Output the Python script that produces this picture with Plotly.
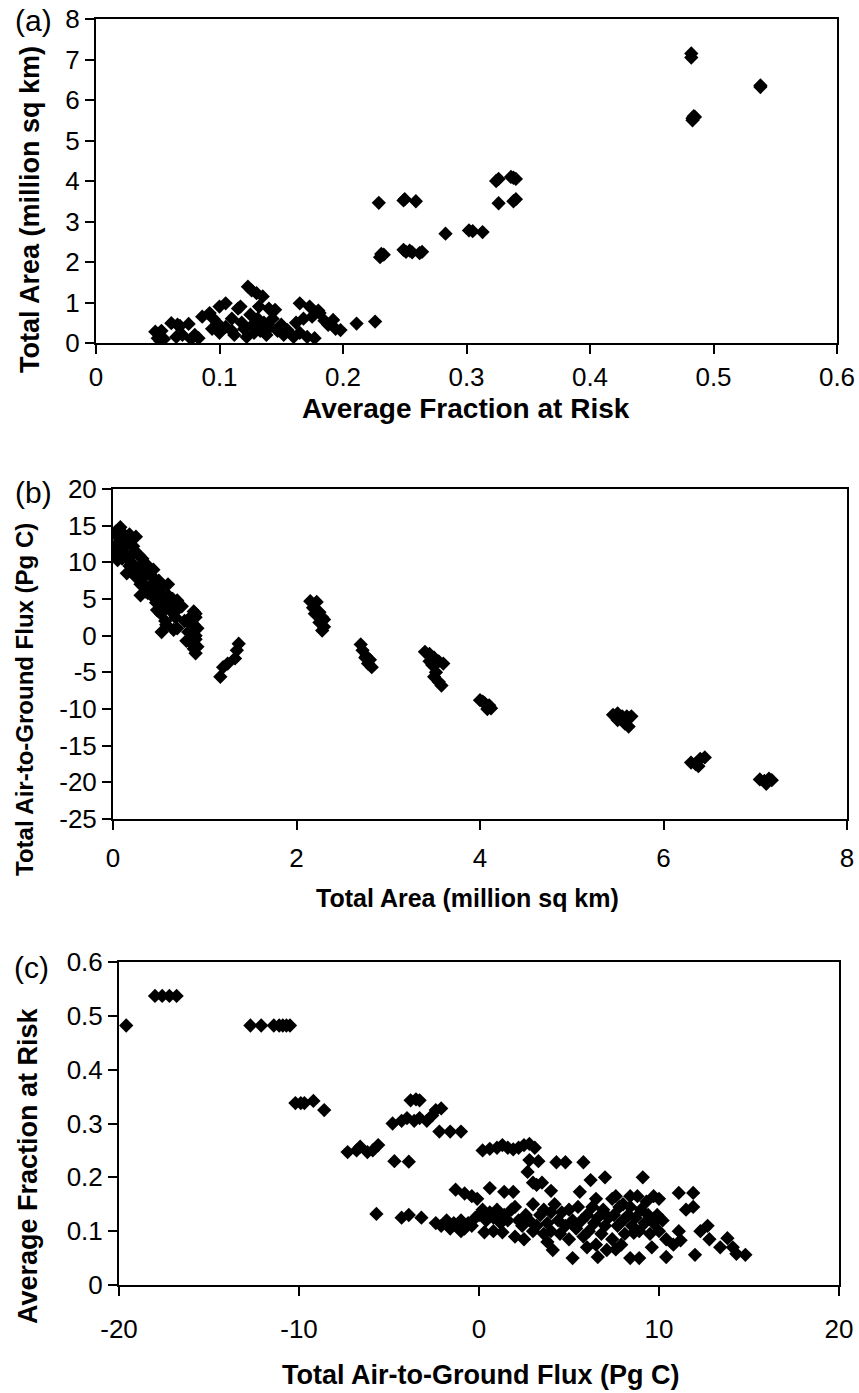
import plotly.graph_objects as go

# ---------------- data ----------------
# (a) Average fraction at risk vs total area
a_frac = [0.283, 0.302, 0.305, 0.313, 0.324, 0.326, 0.326, 0.336, 0.338, 0.340, 0.340, 0.338,
          0.482, 0.482, 0.483, 0.484, 0.483, 0.485, 0.538, 0.538,
          0.229, 0.249, 0.250, 0.259, 0.230, 0.231, 0.233, 0.249, 0.251, 0.254, 0.256, 0.262, 0.264,
          0.226, 0.211, 0.198, 0.194,
          0.048, 0.050, 0.052, 0.055, 0.053, 0.061, 0.066, 0.068, 0.075, 0.070, 0.065, 0.080, 0.077,
          0.083, 0.086, 0.092, 0.095, 0.100, 0.105, 0.098, 0.094, 0.100, 0.105, 0.110, 0.110, 0.112,
          0.115, 0.117, 0.118, 0.120, 0.122, 0.123, 0.125, 0.126, 0.127, 0.128, 0.130, 0.131, 0.132,
          0.133, 0.135, 0.136, 0.138, 0.140, 0.141, 0.143, 0.145, 0.147, 0.150, 0.152, 0.155, 0.160,
          0.162, 0.165, 0.165, 0.168, 0.171, 0.173, 0.175, 0.177, 0.180, 0.181, 0.185, 0.192, 0.188]
a_area = [2.70, 2.78, 2.76, 2.74, 4.00, 4.05, 3.45, 4.10, 4.08, 4.05, 3.55, 3.50,
          7.05, 7.15, 5.50, 5.60, 5.55, 5.58, 6.32, 6.36,
          3.46, 3.52, 3.55, 3.50, 2.12, 2.20, 2.18, 2.30, 2.25, 2.28, 2.24, 2.22, 2.25,
          0.53, 0.48, 0.32, 0.35,
          0.28, 0.12, 0.05, 0.10, 0.30, 0.49, 0.45, 0.42, 0.47, 0.20, 0.15, 0.20, 0.10,
          0.12, 0.65, 0.74, 0.60, 0.90, 0.98, 0.50, 0.35, 0.25, 0.40, 0.30, 0.60, 0.20,
          0.85, 0.90, 0.50, 0.35, 0.15, 1.39, 0.70, 1.30, 0.45, 0.25, 1.23, 0.60, 0.90,
          0.30, 1.15, 0.50, 0.20, 0.85, 0.40, 0.60, 0.82, 0.30, 0.45, 0.20, 0.32, 0.15,
          0.50, 0.98, 0.25, 0.60, 0.15, 0.90, 0.65, 0.12, 0.80, 0.74, 0.55, 0.57, 0.45]

# (b) Total area vs total air-to-ground flux
b_area = [0.03, 0.05, 0.04, 0.06, 0.03, 0.05, 0.08, 0.10, 0.12, 0.10, 0.14,
          0.18, 0.20, 0.22, 0.25, 0.20, 0.24, 0.22, 0.28, 0.15, 0.25, 0.30, 0.18,
          0.32, 0.35, 0.38, 0.30, 0.34, 0.40, 0.30, 0.35, 0.42, 0.45, 0.38, 0.44,
          0.50, 0.55, 0.60, 0.50, 0.55, 0.60, 0.48, 0.52, 0.62, 0.57, 0.65, 0.53, 0.58, 0.50,
          0.70, 0.72, 0.68, 0.75, 0.70, 0.66, 0.78,
          0.82, 0.85, 0.88, 0.90, 0.87, 0.90, 0.85, 0.80, 0.92, 0.88, 0.90, 0.83, 0.90,
          0.05, 0.08, 0.12, 0.15, 0.16, 0.20, 0.27, 0.33, 0.37, 0.40,
          0.42, 0.47, 0.52, 0.45, 0.58, 0.63, 0.88, 0.90, 0.86, 0.92,
          1.17, 1.20, 1.25, 1.33, 1.35, 1.37,
          2.15, 2.22, 2.18, 2.25, 2.20, 2.28, 2.25, 2.30, 2.28, 2.30,
          2.70, 2.72, 2.76, 2.80, 2.78, 2.82, 2.75,
          3.40, 3.45, 3.50, 3.55, 3.48, 3.52, 3.50, 3.55, 3.58, 3.45, 3.60,
          4.00, 4.05, 4.10, 4.08, 4.12, 4.03,
          5.45, 5.50, 5.55, 5.60, 5.50, 5.58, 5.62, 5.65,
          6.30, 6.35, 6.40, 6.45, 6.38,
          7.05, 7.10, 7.15, 7.18, 7.12]
b_flux = [14.2, 13.5, 12.5, 11.5, 11.0, 10.3, 14.8, 13.0, 12.0, 10.5, 11.0,
          13.8, 13.0, 12.2, 13.5, 10.0, 11.5, 9.0, 11.0, 8.5, 8.0, 9.5, 9.5,
          10.5, 9.8, 9.5, 7.0, 8.0, 8.5, 5.5, 6.0, 7.0, 6.5, 5.8, 9.0,
          7.5, 6.8, 7.0, 5.0, 4.0, 5.5, 3.5, 3.0, 3.5, 2.0, 5.0, 0.5, 1.5, 6.0,
          4.8, 3.8, 2.5, 4.0, 1.0, 0.8, 2.0,
          0.5, 1.5, 3.3, 2.5, 0.2, -0.5, -1.0, -0.7, 1.0, -1.8, -2.4, 2.0, 3.0,
          12.0, 11.5, 13.8, 12.5, 10.5, 11.0, 9.0, 7.0, 8.5, 6.5,
          5.5, 4.5, 6.5, 7.8, 4.2, 4.5, 1.5, 0.0, 2.7, -1.5,
          -5.6, -4.3, -3.8, -3.1, -2.0, -1.1,
          4.7, 4.6, 3.8, 3.2, 3.0, 2.5, 1.8, 1.2, 0.7, 2.2,
          -1.2, -2.0, -2.8, -3.3, -3.8, -4.3, -3.0,
          -2.2, -2.5, -3.0, -3.5, -4.0, -5.0, -5.6, -6.3, -6.8, -3.5, -3.8,
          -8.8, -9.2, -9.5, -10.0, -9.9, -9.0,
          -10.8, -10.6, -11.0, -11.0, -11.5, -12.0, -12.4, -11.0,
          -17.3, -17.5, -16.8, -16.6, -17.8,
          -19.6, -19.8, -19.5, -19.7, -20.2]

# (c) Total air-to-ground flux vs average fraction at risk
c_flux = [-19.6, -18.0, -17.6, -17.2, -16.8,
          -12.7, -12.1, -11.4, -11.1, -10.9, -10.7, -10.5,
          -10.2, -9.9, -9.7, -9.2, -8.6,
          -3.8, -3.5, -3.3,
          -4.8, -4.3, -4.0, -3.6, -3.3, -2.9, -2.6, -2.4, -2.1,
          -2.2, -1.6, -1.0,
          -7.3, -6.8, -6.6, -6.2, -5.9, -5.6, -4.7, -3.9,
          -5.7, -4.3, -3.9, -3.2,
          0.2, 0.6, 1.0, 1.3, 1.6, 1.9, 2.2, 2.5, 2.8, 3.1,
          2.8, 3.3, 4.3, 4.8, 5.8, 2.7, 6.2, 7.0, 9.1, 3.2,
          -1.3, -0.8, -0.4, -0.1, 0.6, 1.4, 1.9, 5.6, 7.4,
          7.6, 8.4, 8.8, 9.7, 11.1, 11.9, 11.5, 11.9,
          12.7, 12.3, 11.1, 11.2, 12.8, 13.4, 13.8, 14.1, 14.8, 14.3, 12.0, 10.4, 8.4, 8.9, 7.1, 7.6, 8.6,
          0.3, 1.3, 4.1, 5.2, 6.6,
          -2.4, -2.1, -1.8, -1.6, -1.4, -1.2, -1.0, -0.8, -0.6, -0.4, -0.2, 0.0, 0.2, 0.4, 0.6, 0.8,
          1.0, 1.2, 1.4, 1.6, 1.8, 2.0, 2.2, 2.4, 2.6, 2.8, 3.0, 3.0, 3.2, 3.4, 3.6, 3.6, 3.8, 4.0,
          4.0, 4.2, 4.4, 4.5, 4.6, 4.8, 5.0, 5.0, 5.2, 5.4, 5.5, 5.7, 5.8, 6.0, 6.1, 6.3, 6.4, 6.6,
          6.8, 6.9, 7.0, 7.2, 7.4, 7.5, 7.7, 7.8, 8.0, 8.1, 8.3, 8.5, 8.7, 8.9, 9.0, 9.2, 9.4, 9.5,
          9.7, 9.9, 10.0, 10.2, 10.4,
          -1.0, 0.8, 2.0, 2.5, 3.8, 6.0, 6.5, 7.9, 9.6, 10.8,
          3.0, 3.5, 4.0, 6.5, 8.0, 8.4, 9.3, 10.0]
c_frac = [0.482, 0.537, 0.537, 0.537, 0.537,
          0.482, 0.482, 0.482, 0.482, 0.482, 0.482, 0.482,
          0.338, 0.338, 0.338, 0.342, 0.325,
          0.343, 0.345, 0.343,
          0.300, 0.305, 0.310, 0.305, 0.310, 0.305, 0.315, 0.325, 0.328,
          0.285, 0.285, 0.285,
          0.247, 0.250, 0.257, 0.247, 0.250, 0.260, 0.230, 0.229,
          0.132, 0.125, 0.130, 0.125,
          0.250, 0.253, 0.255, 0.260, 0.255, 0.252, 0.255, 0.260, 0.262, 0.255,
          0.232, 0.230, 0.228, 0.228, 0.228, 0.210, 0.195, 0.200, 0.200, 0.186,
          0.177, 0.170, 0.165, 0.160, 0.180, 0.173, 0.173, 0.173, 0.160,
          0.165, 0.165, 0.165, 0.165, 0.171, 0.171, 0.140, 0.145,
          0.110, 0.100, 0.100, 0.083, 0.085, 0.070, 0.087, 0.070, 0.056, 0.058, 0.056, 0.052, 0.050, 0.050, 0.065, 0.066, 0.097,
          0.098, 0.098, 0.065, 0.050, 0.052,
          0.115, 0.110, 0.120, 0.105, 0.115, 0.110, 0.120, 0.105, 0.115, 0.110, 0.125, 0.130, 0.140, 0.120, 0.135, 0.125,
          0.140, 0.115, 0.130, 0.120, 0.140, 0.145, 0.120, 0.110, 0.130, 0.120, 0.100, 0.150, 0.110, 0.130, 0.095, 0.140, 0.115, 0.100,
          0.135, 0.150, 0.120, 0.095, 0.135, 0.110, 0.140, 0.085, 0.120, 0.105, 0.145, 0.120, 0.090, 0.130, 0.100, 0.145, 0.115, 0.125,
          0.095, 0.140, 0.110, 0.125, 0.085, 0.130, 0.110, 0.145, 0.120, 0.095, 0.130, 0.110, 0.125, 0.100, 0.140, 0.115, 0.130, 0.095,
          0.115, 0.130, 0.100, 0.120, 0.085,
          0.100, 0.100, 0.090, 0.085, 0.080, 0.070, 0.075, 0.075, 0.070, 0.075,
          0.190, 0.190, 0.175, 0.160, 0.150, 0.145, 0.155, 0.160]

# tick labels
a_xticks = [0, 0.1, 0.2, 0.3, 0.4, 0.5, 0.6]
a_xtext = ["0", "0.1", "0.2", "0.3", "0.4", "0.5", "0.6"]
a_yticks = [0, 1, 2, 3, 4, 5, 6, 7, 8]
b_xticks = [0, 2, 4, 6, 8]
b_yticks = [-25, -20, -15, -10, -5, 0, 5, 10, 15, 20]
b_ytext = ["-25", "-20", "-15", "-10", "-5", "0", "5", "10", "15", "20"]
c_xticks = [-20, -10, 0, 10, 20]
c_xtext = ["-20", "-10", "0", "10", "20"]
c_yticks = [0, 0.1, 0.2, 0.3, 0.4, 0.5, 0.6]
c_ytext = ["0", "0.1", "0.2", "0.3", "0.4", "0.5", "0.6"]

# ---------------- layout helpers ----------------
W, H = 859, 1393
FONT = "Liberation Sans, Arial, sans-serif"


def xd(l, r):
    return [l / W, r / W]


def yd(top, bottom):
    return [(H - bottom) / H, (H - top) / H]


marker = dict(symbol="diamond", size=11, color="black", line=dict(width=0))

fig = go.Figure()
fig.add_trace(go.Scatter(x=a_frac, y=a_area, mode="markers", marker=marker,
                         xaxis="x", yaxis="y", showlegend=False))
fig.add_trace(go.Scatter(x=b_area, y=b_flux, mode="markers", marker=marker,
                         xaxis="x2", yaxis="y2", showlegend=False))
fig.add_trace(go.Scatter(x=c_flux, y=c_frac, mode="markers", marker=marker,
                         xaxis="x3", yaxis="y3", showlegend=False))

common = dict(showline=True, linecolor="black", linewidth=2, mirror=True,
              ticks="outside", ticklen=9, tickwidth=2, tickcolor="black",
              showgrid=False, zeroline=False, automargin=False,
              tickfont=dict(family=FONT, size=26, color="black"))

fig.update_layout(
    width=W, height=H,
    margin=dict(l=0, r=0, t=0, b=0, pad=0, autoexpand=False),
    paper_bgcolor="white", plot_bgcolor="white",
    xaxis=dict(domain=xd(96, 837), range=[0, 0.6], anchor="y",
               tickvals=a_xticks, ticktext=a_xtext, ticklabelstandoff=1, **common),
    yaxis=dict(domain=yd(19, 343), range=[0, 8], anchor="x",
               tickvals=a_yticks, **common),
    xaxis2=dict(domain=xd(113, 847), range=[0, 8], anchor="y2",
                tickvals=b_xticks, ticklabelstandoff=6, **common),
    yaxis2=dict(domain=yd(489, 819), range=[-25, 20], anchor="x2",
                tickvals=b_yticks, ticktext=b_ytext, **common),
    xaxis3=dict(domain=xd(119, 839), range=[-20, 20], anchor="y3",
                tickvals=c_xticks, ticktext=c_xtext, ticklabelstandoff=11, **common),
    yaxis3=dict(domain=yd(962, 1285), range=[0, 0.6], anchor="x3",
                tickvals=c_yticks, ticktext=c_ytext, **common),
)

label_font = dict(family=FONT, size=30, color="black")

annotations = [
    # panel labels
    dict(text="(a)", x=33 / W, y=(H - 20) / H),
    dict(text="(b)", x=33 / W, y=(H - 492) / H),
    dict(text="(c)", x=31 / W, y=(H - 967) / H),
]
for a in annotations:
    a.update(xref="paper", yref="paper", showarrow=False, xanchor="center",
             yanchor="middle", font=label_font)

titles = [
    dict(text="Average Fraction at Risk", x=466 / W, y=(H - 408) / H, textangle=0, size=28),
    dict(text="Total Area (million sq km)", x=467 / W, y=(H - 898) / H, textangle=0, size=25),
    dict(text="Total Air-to-Ground Flux (Pg C)", x=480 / W, y=(H - 1375) / H, textangle=0, size=27),
    dict(text="Total Area (million sq km)", x=30 / W, y=(H - 210) / H, textangle=-90, size=27),
    dict(text="Total Air-to-Ground Flux (Pg C)", x=25 / W, y=(H - 700) / H, textangle=-90, size=24),
    dict(text="Average Fraction at Risk", x=28 / W, y=(H - 1166) / H, textangle=-90, size=27),
]
for t in titles:
    size = t.pop("size")
    t.update(xref="paper", yref="paper", showarrow=False, xanchor="center",
             yanchor="middle",
             font=dict(family=FONT, size=size, color="black", weight="bold"))

fig.update_layout(annotations=annotations + titles)

fig.write_html("out.html")
